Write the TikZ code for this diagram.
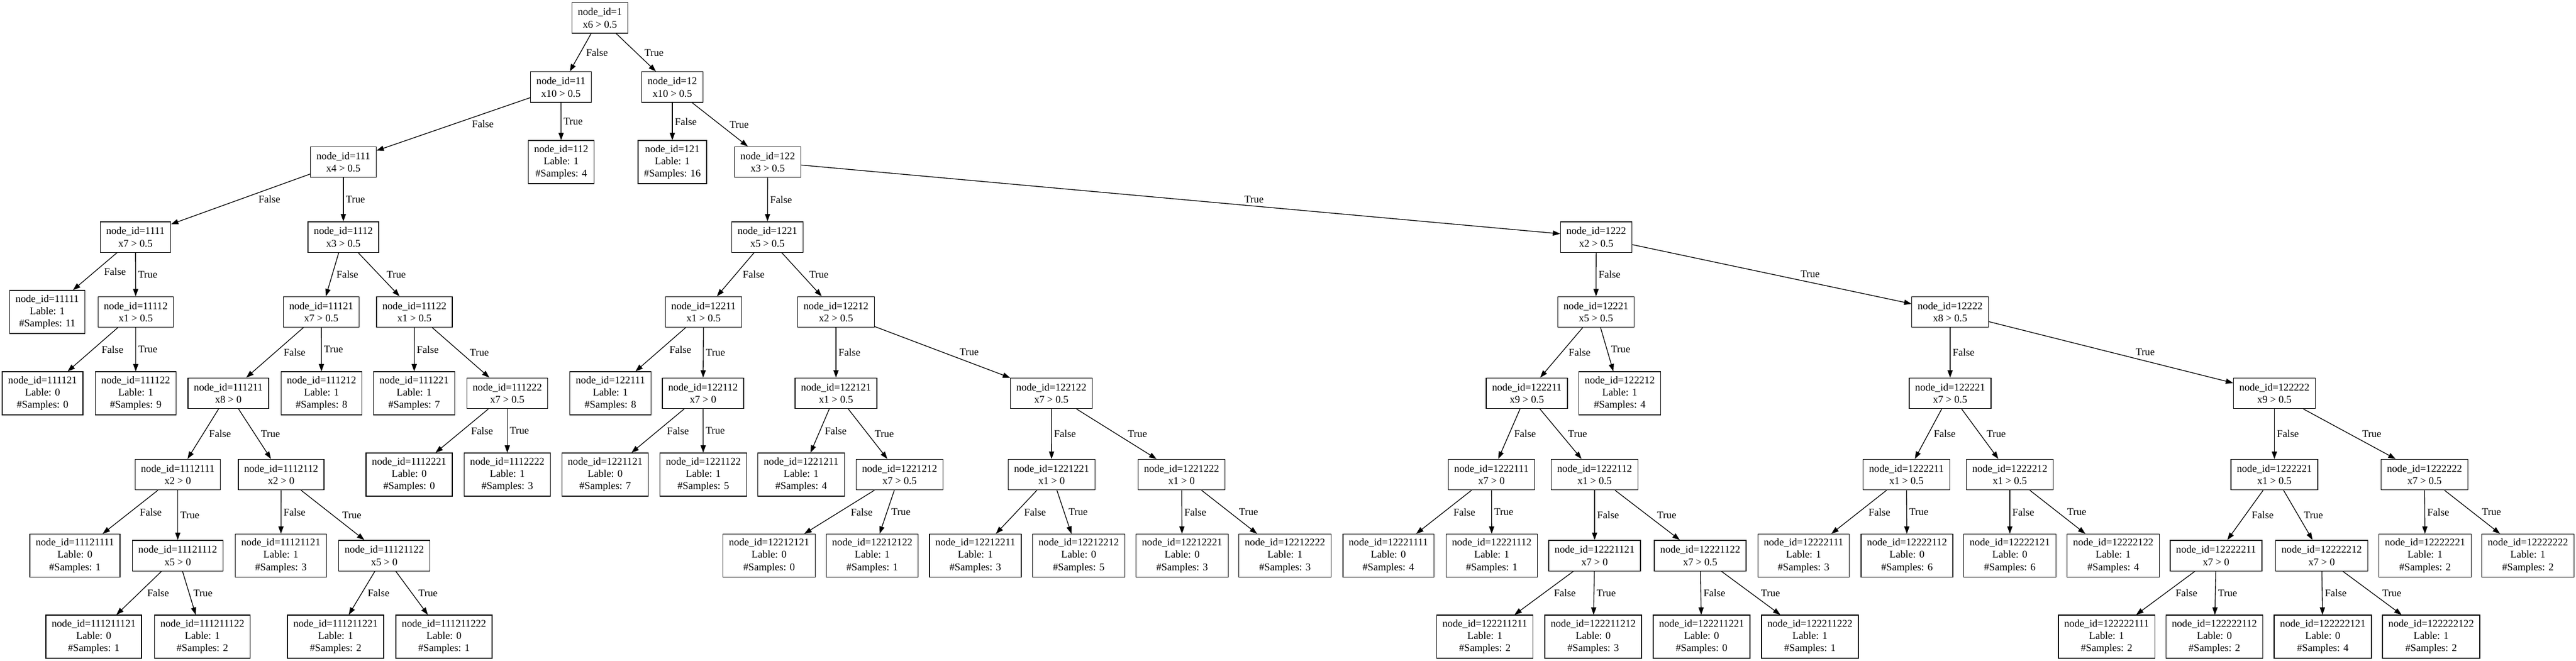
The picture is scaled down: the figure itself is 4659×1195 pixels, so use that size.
\documentclass[tikz,border=0pt]{standalone}
\usepackage{fontspec}
\setmainfont{Liberation Serif}
\usetikzlibrary{arrows.meta}
\usetikzlibrary{calc}
\tikzset{
    box/.style={shape=rectangle, draw=black, line width=1pt, inner xsep=7.92pt, inner ysep=0pt,
        align=center, font=\fontsize{14}{16.8}\selectfont},
    splitnode/.style={box, minimum height=41.5pt},
    leafnode/.style={box, minimum height=58.3pt},
    edgeline/.style={line width=1pt, -{Triangle[length=10pt, width=7pt]}},
    edgelabel/.style={midway, anchor=west, inner sep=3pt, font=\fontsize{14}{16.8}\selectfont}}
\newcommand{\treeedge}[3]{%
    \draw[edgeline] let \p1=(#1.center), \p2=(#2.center), \n1={abs((\x2-\x1)/(\y2-\y1))} in
        (#1) -- (#2) node[edgelabel, xshift={\n1*7.5pt}] {#3};}

\begin{document}
\begin{tikzpicture}[x=0.75pt, y=-0.75pt]
    \useasboundingbox (0,0) rectangle (4659,1195);

    % level 0 - 2
    \node[splitnode] (n1) at (1085,32.5) {node\_id=1\\x6 > 0.5};
    \node[splitnode] (n11) at (1014.5,157.5) {node\_id=11\\x10 > 0.5};
    \node[splitnode] (n12) at (1216,157.5) {node\_id=12\\x10 > 0.5};
    \node[splitnode] (n111) at (621,293) {node\_id=111\\x4 > 0.5};
    \node[leafnode] (n112) at (1015,293) {node\_id=112\\Lable: 1\\\#Samples: 4};
    \node[leafnode] (n121) at (1216,293) {node\_id=121\\Lable: 1\\\#Samples: 16};
    \node[splitnode] (n122) at (1388.5,293) {node\_id=122\\x3 > 0.5};

    % level 3
    \node[splitnode] (n1111) at (245,428.5) {node\_id=1111\\x7 > 0.5};
    \node[splitnode] (n1112) at (621,428.5) {node\_id=1112\\x3 > 0.5};
    \node[splitnode] (n1221) at (1388,428.5) {node\_id=1221\\x5 > 0.5};
    \node[splitnode] (n1222) at (2887,428.5) {node\_id=1222\\x2 > 0.5};

    % level 4
    \node[leafnode] (n11111) at (85.5,564) {node\_id=11111\\Lable: 1\\\#Samples: 11};
    \node[splitnode] (n11112) at (245.5,564) {node\_id=11112\\x1 > 0.5};
    \node[splitnode] (n11121) at (581,564) {node\_id=11121\\x7 > 0.5};
    \node[splitnode] (n11122) at (749.5,564) {node\_id=11122\\x1 > 0.5};
    \node[splitnode] (n12211) at (1272.5,564) {node\_id=12211\\x1 > 0.5};
    \node[splitnode] (n12212) at (1512,564) {node\_id=12212\\x2 > 0.5};
    \node[splitnode] (n12221) at (2886.5,564) {node\_id=12221\\x5 > 0.5};
    \node[splitnode] (n12222) at (3527,564) {node\_id=12222\\x8 > 0.5};

    % level 5
    \node[leafnode] (n111121) at (77,711) {node\_id=111121\\Lable: 0\\\#Samples: 0};
    \node[leafnode] (n111122) at (245.5,711) {node\_id=111122\\Lable: 1\\\#Samples: 9};
    \node[splitnode] (n111211) at (413,711) {node\_id=111211\\x8 > 0};
    \node[leafnode] (n111212) at (581.5,711) {node\_id=111212\\Lable: 1\\\#Samples: 8};
    \node[leafnode] (n111221) at (749,711) {node\_id=111221\\Lable: 1\\\#Samples: 7};
    \node[splitnode] (n111222) at (917.5,711) {node\_id=111222\\x7 > 0.5};
    \node[leafnode] (n122111) at (1104,711) {node\_id=122111\\Lable: 1\\\#Samples: 8};
    \node[splitnode] (n122112) at (1271.5,711) {node\_id=122112\\x7 > 0};
    \node[splitnode] (n122121) at (1512,711) {node\_id=122121\\x1 > 0.5};
    \node[splitnode] (n122122) at (1901.5,711) {node\_id=122122\\x7 > 0.5};
    \node[splitnode] (n122211) at (2761.5,711) {node\_id=122211\\x9 > 0.5};
    \node[leafnode] (n122212) at (2929.5,711) {node\_id=122212\\Lable: 1\\\#Samples: 4};
    \node[splitnode] (n122221) at (3527,711) {node\_id=122221\\x7 > 0.5};
    \node[splitnode] (n122222) at (4113.5,711) {node\_id=122222\\x9 > 0.5};

    % level 6
    \node[splitnode] (n1112111) at (321.5,858) {node\_id=1112111\\x2 > 0};
    \node[splitnode] (n1112112) at (508.5,858) {node\_id=1112112\\x2 > 0};
    \node[leafnode] (n1112221) at (740,858) {node\_id=1112221\\Lable: 0\\\#Samples: 0};
    \node[leafnode] (n1112222) at (917.5,858) {node\_id=1112222\\Lable: 1\\\#Samples: 3};
    \node[leafnode] (n1221121) at (1094.5,858) {node\_id=1221121\\Lable: 0\\\#Samples: 7};
    \node[leafnode] (n1221122) at (1272,858) {node\_id=1221122\\Lable: 1\\\#Samples: 5};
    \node[leafnode] (n1221211) at (1449,858) {node\_id=1221211\\Lable: 1\\\#Samples: 4};
    \node[splitnode] (n1221212) at (1627,858) {node\_id=1221212\\x7 > 0.5};
    \node[splitnode] (n1221221) at (1902,858) {node\_id=1221221\\x1 > 0};
    \node[splitnode] (n1221222) at (2137,858) {node\_id=1221222\\x1 > 0};
    \node[splitnode] (n1222111) at (2697.5,858) {node\_id=1222111\\x7 > 0};
    \node[splitnode] (n1222112) at (2884,858) {node\_id=1222112\\x1 > 0.5};
    \node[splitnode] (n1222211) at (3448,858) {node\_id=1222211\\x1 > 0.5};
    \node[splitnode] (n1222212) at (3635,858) {node\_id=1222212\\x1 > 0.5};
    \node[splitnode] (n1222221) at (4113.5,858) {node\_id=1222221\\x1 > 0.5};
    \node[splitnode] (n1222222) at (4385,858) {node\_id=1222222\\x7 > 0.5};

    % level 7
    \node[leafnode] (n11121111) at (135.5,1004.5) {node\_id=11121111\\Lable: 0\\\#Samples: 1};
    \node[splitnode] (n11121112) at (321.5,1004.5) {node\_id=11121112\\x5 > 0};
    \node[leafnode] (n11121121) at (508,1004.5) {node\_id=11121121\\Lable: 1\\\#Samples: 3};
    \node[splitnode] (n11121122) at (695,1004.5) {node\_id=11121122\\x5 > 0};
    \node[leafnode] (n12212121) at (1391,1004.5) {node\_id=12212121\\Lable: 0\\\#Samples: 0};
    \node[leafnode] (n12212122) at (1577.5,1004.5) {node\_id=12212122\\Lable: 1\\\#Samples: 1};
    \node[leafnode] (n12212211) at (1764,1004.5) {node\_id=12212211\\Lable: 1\\\#Samples: 3};
    \node[leafnode] (n12212212) at (1951,1004.5) {node\_id=12212212\\Lable: 0\\\#Samples: 5};
    \node[leafnode] (n12212221) at (2138,1004.5) {node\_id=12212221\\Lable: 0\\\#Samples: 3};
    \node[leafnode] (n12212222) at (2324,1004.5) {node\_id=12212222\\Lable: 1\\\#Samples: 3};
    \node[leafnode] (n12221111) at (2511,1004.5) {node\_id=12221111\\Lable: 0\\\#Samples: 4};
    \node[leafnode] (n12221112) at (2698,1004.5) {node\_id=12221112\\Lable: 1\\\#Samples: 1};
    \node[splitnode] (n12221121) at (2884,1004.5) {node\_id=12221121\\x7 > 0};
    \node[splitnode] (n12221122) at (3075,1004.5) {node\_id=12221122\\x7 > 0.5};
    \node[leafnode] (n12222111) at (3262,1004.5) {node\_id=12222111\\Lable: 1\\\#Samples: 3};
    \node[leafnode] (n12222112) at (3449,1004.5) {node\_id=12222112\\Lable: 0\\\#Samples: 6};
    \node[leafnode] (n12222121) at (3635,1004.5) {node\_id=12222121\\Lable: 0\\\#Samples: 6};
    \node[leafnode] (n12222122) at (3822,1004.5) {node\_id=12222122\\Lable: 1\\\#Samples: 4};
    \node[splitnode] (n12222211) at (4008,1004.5) {node\_id=12222211\\x7 > 0};
    \node[splitnode] (n12222212) at (4199,1004.5) {node\_id=12222212\\x7 > 0};
    \node[leafnode] (n12222221) at (4386,1004.5) {node\_id=12222221\\Lable: 1\\\#Samples: 2};
    \node[leafnode] (n12222222) at (4572,1004.5) {node\_id=12222222\\Lable: 1\\\#Samples: 2};

    % level 8
    \node[leafnode] (n111211121) at (169.5,1151) {node\_id=111211121\\Lable: 0\\\#Samples: 1};
    \node[leafnode] (n111211122) at (366,1151) {node\_id=111211122\\Lable: 1\\\#Samples: 2};
    \node[leafnode] (n111211221) at (607,1151) {node\_id=111211221\\Lable: 1\\\#Samples: 2};
    \node[leafnode] (n111211222) at (803,1151) {node\_id=111211222\\Lable: 0\\\#Samples: 1};
    \node[leafnode] (n122211211) at (2685.5,1151) {node\_id=122211211\\Lable: 1\\\#Samples: 2};
    \node[leafnode] (n122211212) at (2881.5,1151) {node\_id=122211212\\Lable: 0\\\#Samples: 3};
    \node[leafnode] (n122211221) at (3077.5,1151) {node\_id=122211221\\Lable: 0\\\#Samples: 0};
    \node[leafnode] (n122211222) at (3273.5,1151) {node\_id=122211222\\Lable: 1\\\#Samples: 1};
    \node[leafnode] (n122222111) at (3810,1151) {node\_id=122222111\\Lable: 1\\\#Samples: 2};
    \node[leafnode] (n122222112) at (4005,1151) {node\_id=122222112\\Lable: 0\\\#Samples: 2};
    \node[leafnode] (n122222121) at (4201,1151) {node\_id=122222121\\Lable: 0\\\#Samples: 4};
    \node[leafnode] (n122222122) at (4397,1151) {node\_id=122222122\\Lable: 1\\\#Samples: 2};

    % edges
    \treeedge{n1}{n11}{False}
    \treeedge{n1}{n12}{True}
    \treeedge{n11}{n111}{False}
    \treeedge{n11}{n112}{True}
    \treeedge{n12}{n121}{False}
    \treeedge{n12}{n122}{True}
    \treeedge{n111}{n1111}{False}
    \treeedge{n111}{n1112}{True}
    \treeedge{n122}{n1221}{False}
    \treeedge{n122}{n1222}{True}
    \treeedge{n1111}{n11111}{False}
    \treeedge{n1111}{n11112}{True}
    \treeedge{n1112}{n11121}{False}
    \treeedge{n1112}{n11122}{True}
    \treeedge{n1221}{n12211}{False}
    \treeedge{n1221}{n12212}{True}
    \treeedge{n1222}{n12221}{False}
    \treeedge{n1222}{n12222}{True}
    \treeedge{n11112}{n111121}{False}
    \treeedge{n11112}{n111122}{True}
    \treeedge{n11121}{n111211}{False}
    \treeedge{n11121}{n111212}{True}
    \treeedge{n11122}{n111221}{False}
    \treeedge{n11122}{n111222}{True}
    \treeedge{n12211}{n122111}{False}
    \treeedge{n12211}{n122112}{True}
    \treeedge{n12212}{n122121}{False}
    \treeedge{n12212}{n122122}{True}
    \treeedge{n12221}{n122211}{False}
    \treeedge{n12221}{n122212}{True}
    \treeedge{n12222}{n122221}{False}
    \treeedge{n12222}{n122222}{True}
    \treeedge{n111211}{n1112111}{False}
    \treeedge{n111211}{n1112112}{True}
    \treeedge{n111222}{n1112221}{False}
    \treeedge{n111222}{n1112222}{True}
    \treeedge{n122112}{n1221121}{False}
    \treeedge{n122112}{n1221122}{True}
    \treeedge{n122121}{n1221211}{False}
    \treeedge{n122121}{n1221212}{True}
    \treeedge{n122122}{n1221221}{False}
    \treeedge{n122122}{n1221222}{True}
    \treeedge{n122211}{n1222111}{False}
    \treeedge{n122211}{n1222112}{True}
    \treeedge{n122221}{n1222211}{False}
    \treeedge{n122221}{n1222212}{True}
    \treeedge{n122222}{n1222221}{False}
    \treeedge{n122222}{n1222222}{True}
    \treeedge{n1112111}{n11121111}{False}
    \treeedge{n1112111}{n11121112}{True}
    \treeedge{n1112112}{n11121121}{False}
    \treeedge{n1112112}{n11121122}{True}
    \treeedge{n1221212}{n12212121}{False}
    \treeedge{n1221212}{n12212122}{True}
    \treeedge{n1221221}{n12212211}{False}
    \treeedge{n1221221}{n12212212}{True}
    \treeedge{n1221222}{n12212221}{False}
    \treeedge{n1221222}{n12212222}{True}
    \treeedge{n1222111}{n12221111}{False}
    \treeedge{n1222111}{n12221112}{True}
    \treeedge{n1222112}{n12221121}{False}
    \treeedge{n1222112}{n12221122}{True}
    \treeedge{n1222211}{n12222111}{False}
    \treeedge{n1222211}{n12222112}{True}
    \treeedge{n1222212}{n12222121}{False}
    \treeedge{n1222212}{n12222122}{True}
    \treeedge{n1222221}{n12222211}{False}
    \treeedge{n1222221}{n12222212}{True}
    \treeedge{n1222222}{n12222221}{False}
    \treeedge{n1222222}{n12222222}{True}
    \treeedge{n11121112}{n111211121}{False}
    \treeedge{n11121112}{n111211122}{True}
    \treeedge{n11121122}{n111211221}{False}
    \treeedge{n11121122}{n111211222}{True}
    \treeedge{n12221121}{n122211211}{False}
    \treeedge{n12221121}{n122211212}{True}
    \treeedge{n12221122}{n122211221}{False}
    \treeedge{n12221122}{n122211222}{True}
    \treeedge{n12222211}{n122222111}{False}
    \treeedge{n12222211}{n122222112}{True}
    \treeedge{n12222212}{n122222121}{False}
    \treeedge{n12222212}{n122222122}{True}

\end{tikzpicture}
\end{document}
